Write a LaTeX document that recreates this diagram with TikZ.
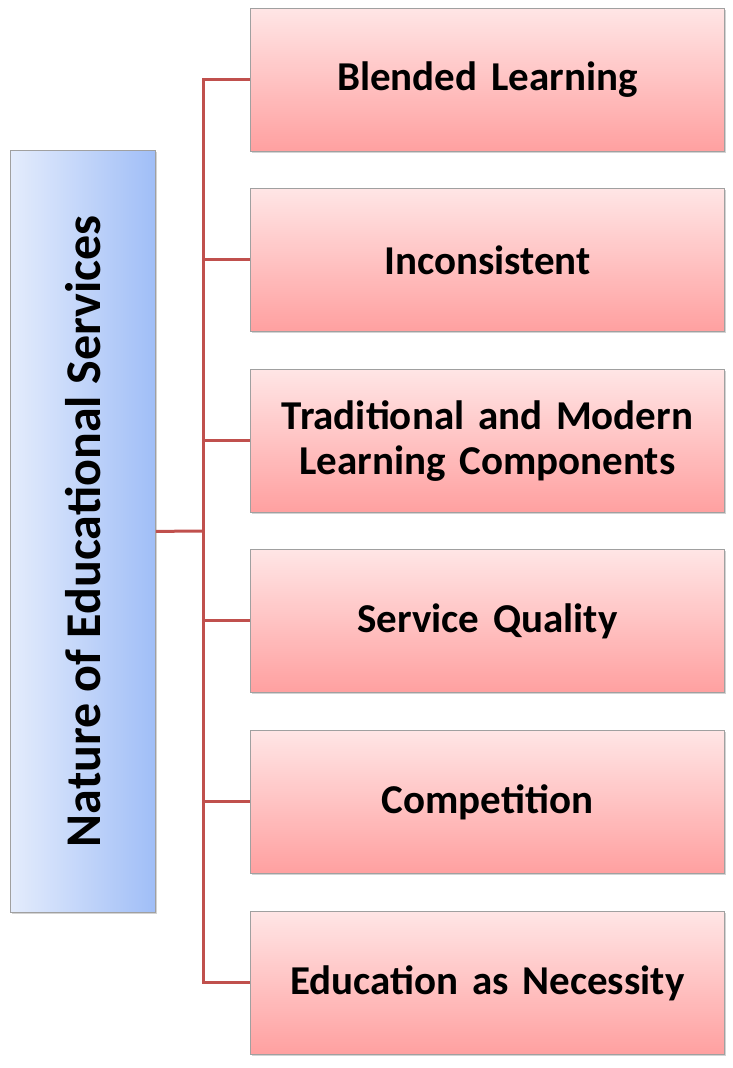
\documentclass[tikz,border=0pt]{standalone}
\usepackage{fontspec}
\setmainfont{Carlito}
\usetikzlibrary{shadows}
\definecolor{conn}{HTML}{C0504D}
\definecolor{bord}{HTML}{A0A0A0}
\tikzset{
  item/.style={draw=bord, line width=0.8pt, top color=red!10!white, bottom color={rgb,255:red,255;green,160;blue,160},
    minimum width=474pt, minimum height=143pt, anchor=north west, inner sep=0pt,
    font=\fontsize{41}{45}\selectfont\bfseries, align=center, text width=465pt, drop shadow={opacity=0.35,shadow xshift=2pt,shadow yshift=-2pt}},
  root/.style={draw=bord, line width=0.8pt, left color={rgb,255:red,228;green,236;blue,252}, right color={rgb,255:red,160;green,190;blue,247},
    minimum width=145pt, minimum height=762pt, anchor=north west, inner sep=0pt, drop shadow={opacity=0.35,shadow xshift=2pt,shadow yshift=-2pt}},
  link/.style={draw=conn, line width=3pt}
}
\begin{document}
\begin{tikzpicture}[x=1pt,y=-1pt]
\useasboundingbox (0,0) rectangle (733,1068);
\node[root] (r) at (10,150) {};
\node[rotate=90, font=\fontsize{50}{54}\selectfont\bfseries] (rt) at (r.center) {Nature of Educational Services};
\node[item] (a) at (250,8) {Blended Learning};
\node[item] (b) at (250,188) {Inconsistent};
\node[item] (c) at (250,369) {Traditional and Modern\\Learning Components};
\node[item] (d) at (250,549) {Service Quality};
\node[item] (e) at (250,730) {Competition};
\node[item] (f) at (250,911) {Education as Necessity};
\coordinate (j) at (203,531);
\draw[link] (r.east) -- (j);
\draw[link] (a.west) -| (j);
\draw[link] (f.west) -| (j);
\foreach \n in {b,c,d,e} \draw[link] (\n.west) -- (\n.west -| j);
\end{tikzpicture}
\end{document}
